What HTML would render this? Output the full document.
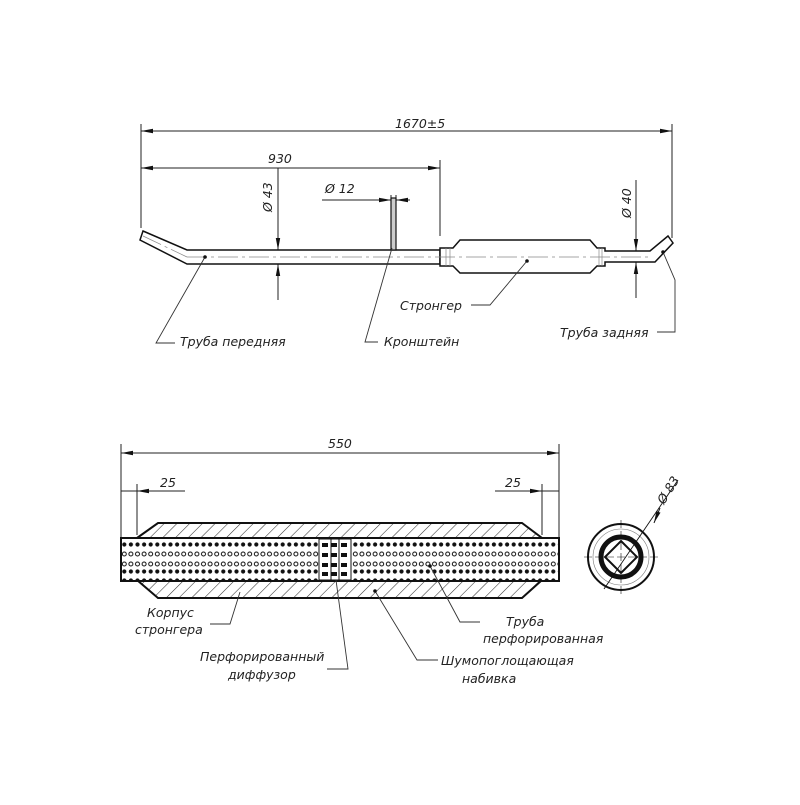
<!DOCTYPE html>
<html><head><meta charset="utf-8"><style>
html,body{margin:0;padding:0;background:#fff}
svg text{font-family:"DejaVu Sans","Liberation Sans",sans-serif;font-style:italic;font-size:12.5px;fill:#222}
</style></head><body>
<svg width="800" height="800" viewBox="0 0 800 800" xmlns="http://www.w3.org/2000/svg">
<defs>
<marker id="a" markerWidth="12" markerHeight="6" refX="12" refY="3" orient="auto-start-reverse" markerUnits="userSpaceOnUse"><path d="M0,0.8 L12,3 L0,5.2z" fill="#111"/></marker>
<pattern id="h" width="9" height="9" patternUnits="userSpaceOnUse" patternTransform="rotate(45)"><line x1="0" y1="0" x2="0" y2="9" stroke="#333" stroke-width="1.1"/></pattern>
<pattern id="d" x="121" y="540" width="6.6" height="9" patternUnits="userSpaceOnUse"><circle cx="3.3" cy="4.5" r="2.1" fill="#111"/></pattern>
<pattern id="o" x="121" y="549" width="6.6" height="10" patternUnits="userSpaceOnUse"><circle cx="3.3" cy="5" r="2" fill="#fff" stroke="#111" stroke-width="1"/></pattern>
</defs>
<g stroke="#222" stroke-width="1" fill="none">
<line x1="141" y1="124" x2="141" y2="228"/><line x1="672" y1="124" x2="672" y2="238"/>
<line x1="141" y1="131" x2="672" y2="131" marker-start="url(#a)" marker-end="url(#a)"/>
<line x1="440" y1="160" x2="440" y2="236"/>
<line x1="141" y1="168" x2="440" y2="168" marker-start="url(#a)" marker-end="url(#a)"/>
<line x1="278" y1="168" x2="278" y2="250" marker-end="url(#a)"/>
<line x1="278" y1="300" x2="278" y2="264" marker-end="url(#a)"/>
<line x1="636" y1="180" x2="636" y2="251" marker-end="url(#a)"/>
<line x1="636" y1="298" x2="636" y2="262" marker-end="url(#a)"/>
<line x1="322" y1="200" x2="391" y2="200" marker-end="url(#a)"/>
<line x1="410" y1="200" x2="396" y2="200" marker-end="url(#a)"/>
<line x1="391" y1="195" x2="391" y2="205"/><line x1="396" y1="195" x2="396" y2="205"/>
</g>
<text x="395" y="128">1670±5</text>
<text x="268" y="163">930</text>
<text x="325" y="193">Ø 12</text>
<text transform="translate(272,212) rotate(-90)">Ø 43</text>
<text transform="translate(631,218) rotate(-90)">Ø 40</text>
<g stroke="#111" stroke-width="1.5" fill="#fff">
<path d="M143,231 L187,250 L440,250 L440,264 L187,264 L140,240 Z"/>
<path d="M440,248 L453,248 L460,240 L590,240 L597,248 L605,248 L605,251 L650,251 L668,236 L673,243 L655,262 L605,262 L605,266 L597,266 L590,273 L460,273 L453,266 L440,266 Z"/>
<rect x="391" y="198" width="5" height="52" fill="#ccc" stroke-width="1.2"/>
</g>
<g stroke="#888" stroke-width="0.7" fill="none">
<line x1="187" y1="257" x2="650" y2="257" stroke-dasharray="20,4,3,4"/>
<line x1="143" y1="236" x2="187" y2="257" stroke-dasharray="20,4,3,4"/>
<line x1="446" y1="248" x2="446" y2="266"/><line x1="450" y1="248" x2="450" y2="266"/>
<line x1="599" y1="248" x2="599" y2="266"/><line x1="602" y1="248" x2="602" y2="266"/>
</g>
<g stroke="#333" stroke-width="0.9" fill="none">
<polyline points="205,257 156,343 175,343"/>
<polyline points="392,248 365,342 378,342"/>
<polyline points="527,261 490,305 471,305"/>
<polyline points="663,252 675,280 675,332 657,332"/>
</g>
<g fill="#111"><circle cx="205" cy="257" r="1.8"/><circle cx="527" cy="261" r="1.8"/><circle cx="663" cy="252" r="1.8"/></g>
<text x="180" y="346">Труба передняя</text>
<text x="384" y="346">Кронштейн</text>
<text x="400" y="310">Стронгер</text>
<text x="560" y="337">Труба задняя</text>
<g stroke="#222" stroke-width="1" fill="none">
<line x1="121" y1="444" x2="121" y2="540"/><line x1="559" y1="444" x2="559" y2="540"/>
<line x1="121" y1="453" x2="559" y2="453" marker-start="url(#a)" marker-end="url(#a)"/>
<line x1="137" y1="484" x2="137" y2="535"/><line x1="542" y1="484" x2="542" y2="535"/>
<line x1="185" y1="491" x2="137" y2="491" marker-end="url(#a)"/>
<line x1="121" y1="491" x2="137" y2="491"/>
<line x1="495" y1="491" x2="542" y2="491" marker-end="url(#a)"/>
<line x1="542" y1="491" x2="559" y2="491"/>
</g>
<text x="328" y="448">550</text>
<text x="160" y="487">25</text>
<text x="505" y="487">25</text>
<path d="M137,538 L158,523 L522,523 L542,538 L542,580 L522,598 L158,598 L137,580 Z" fill="url(#h)" stroke="#111" stroke-width="2"/>
<rect x="121" y="538" width="438" height="43" fill="#fff" stroke="#111" stroke-width="2"/>
<rect x="122" y="540" width="436" height="40" fill="url(#d)"/>
<rect x="122" y="549" width="436" height="20" fill="#fff"/>
<rect x="122" y="549" width="436" height="20" fill="url(#o)"/>
<rect x="319" y="539" width="32" height="41" fill="#fff" stroke="#111" stroke-width="1"/>
<g fill="#111"><rect x="322" y="543" width="6" height="4"/><rect x="331" y="543" width="6" height="4"/><rect x="341" y="543" width="6" height="4"/>
<rect x="322" y="553" width="6" height="4"/><rect x="331" y="553" width="6" height="4"/><rect x="341" y="553" width="6" height="4"/>
<rect x="322" y="563" width="6" height="4"/><rect x="331" y="563" width="6" height="4"/><rect x="341" y="563" width="6" height="4"/>
<rect x="322" y="572" width="6" height="4"/><rect x="331" y="572" width="6" height="4"/><rect x="341" y="572" width="6" height="4"/></g>
<line x1="331" y1="539" x2="331" y2="580" stroke="#111"/><line x1="339" y1="539" x2="339" y2="580" stroke="#111"/>
<g stroke="#111" fill="none">
<circle cx="621" cy="557" r="33" stroke-width="2"/>
<circle cx="621" cy="557" r="28" stroke-width="0.6" stroke="#777"/>
<circle cx="621" cy="557" r="20" stroke-width="5"/>
<path d="M621,541 L637,557 L621,573 L605,557 Z" stroke-width="2" fill="#fff"/>
<line x1="584" y1="557" x2="658" y2="557" stroke-width="0.6" stroke-dasharray="8,3"/>
<line x1="621" y1="520" x2="621" y2="594" stroke-width="0.6" stroke-dasharray="8,3"/>
<line x1="604" y1="589" x2="678" y2="480" stroke-width="0.9"/>
<line x1="660" y1="508" x2="654" y2="523" marker-end="url(#a)" stroke-width="1"/>
</g>
<text transform="translate(664,505) rotate(-58)">Ø 83</text>
<g stroke="#333" stroke-width="0.9" fill="none">
<polyline points="240,592 230,624 210,624"/>
<polyline points="336,580 348,669 327,669"/>
<polyline points="375,591 417,660 438,660"/>
<polyline points="430,566 460,622 480,622"/>
</g>
<g fill="#111"><circle cx="375" cy="591" r="1.8"/><circle cx="430" cy="566" r="1.8"/></g>
<text x="147" y="617">Корпус</text>
<text x="135" y="634">стронгера</text>
<text x="200" y="661">Перфорированный</text>
<text x="228" y="679">диффузор</text>
<text x="441" y="665">Шумопоглощающая</text>
<text x="462" y="683">набивка</text>
<text x="506" y="626">Труба</text>
<text x="483" y="643">перфорированная</text>
</svg>
</body></html>
